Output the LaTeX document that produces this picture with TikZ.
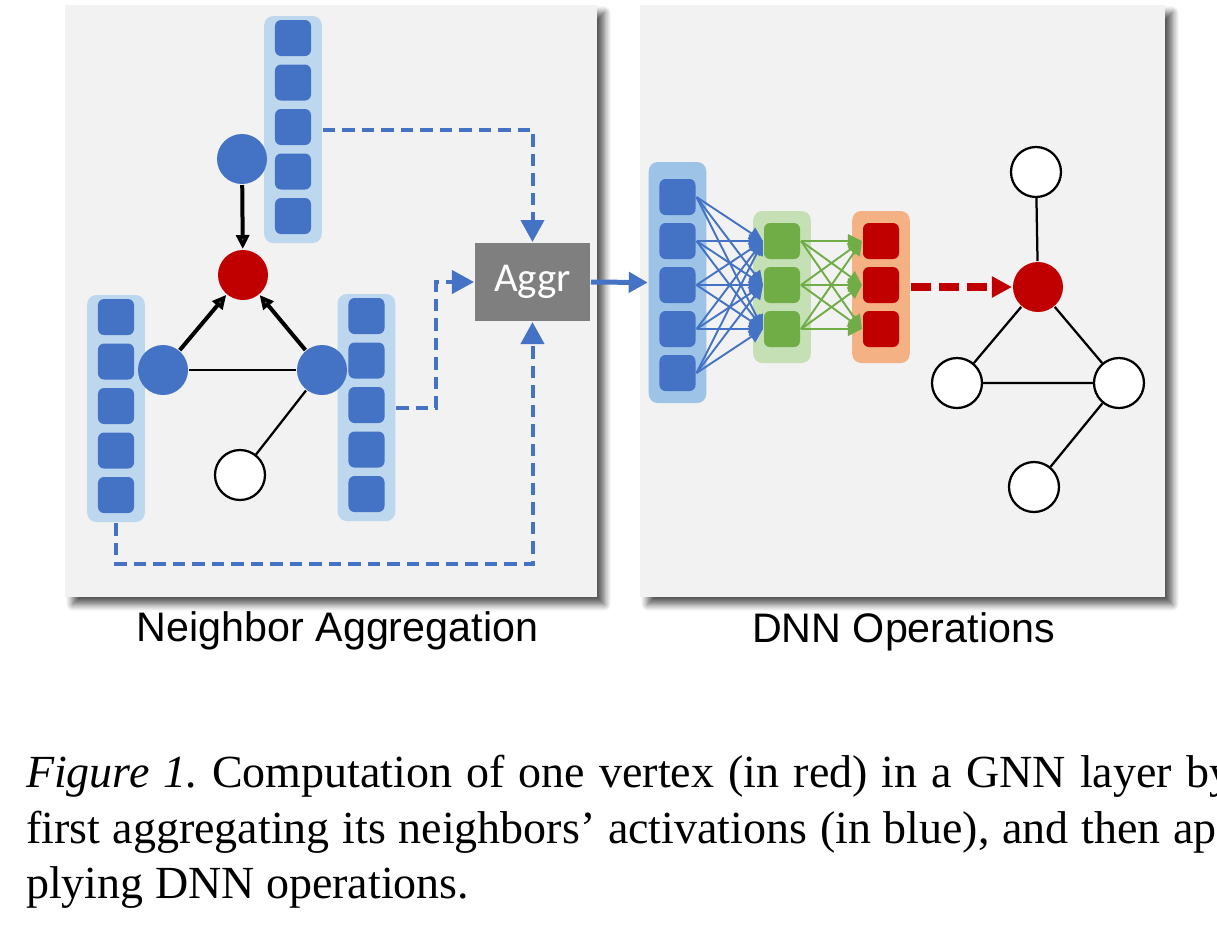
\documentclass[tikz,border=0pt]{standalone}
\usepackage{fontspec}
\setmainfont{Liberation Serif}
\setsansfont{Liberation Sans}
\newfontfamily\aggrfont{Carlito}
\usetikzlibrary{arrows.meta,positioning,shadows.blur}
\definecolor{panelgray}{HTML}{F2F2F2}
\definecolor{cellblue}{HTML}{4472C4}
\definecolor{paleblue}{HTML}{BDD7EE}
\definecolor{midblue}{HTML}{9DC3E6}
\definecolor{cellgreen}{HTML}{70AD47}
\definecolor{palegreen}{HTML}{C5E0B4}
\definecolor{cellred}{HTML}{C00000}
\definecolor{paleorange}{HTML}{F4B183}
\definecolor{aggrgray}{HTML}{7F7F7F}
\frenchspacing

\begin{document}
\begin{tikzpicture}[x=0.2pt,y=-0.2pt,
    panel/.style={fill=panelgray,blur shadow={shadow xshift=1.5pt,shadow yshift=-1.5pt,shadow blur radius=1.3pt,shadow blur steps=8,shadow opacity=65}},
    vecbg/.style={rounded corners=1.8pt,minimum width=11.5pt,inner sep=0pt},
    cell/.style={rounded corners=1.2pt,minimum size=7.2pt,inner sep=0pt,fill=#1},
    vertex/.style={circle,minimum size=10pt,inner sep=0pt,fill=#1},
    freenode/.style={circle,minimum size=10pt,inner sep=0pt,fill=white,draw=black,line width=0.45pt},
    graphline/.style={line width=0.45pt},
    msg/.style={line width=0.8pt,-{Triangle[length=2.8pt,width=2.6pt]}},
    flow/.style={cellblue,line width=0.8pt,dash pattern=on 2.5pt off 1.4pt,-{Triangle[length=4.4pt,width=4.6pt]}},
    link/.style={#1,line width=0.38pt,-{Triangle[length=2.8pt,width=2.7pt]}},
    paneltitle/.style={font=\sffamily\fontsize{8.25}{10}\selectfont,anchor=base,inner sep=0pt},
    capline/.style={font=\fontsize{9.2}{11.1}\selectfont,anchor=base west,inner sep=0pt}]
\useasboundingbox (0,0) rectangle (1217,924);
\clip (0,0) rectangle (1217,924);

\path[panel] (65,5) rectangle (597,597);
\path[panel] (640,5) rectangle (1165,597);

\node[vecbg,fill=paleblue,minimum height=45.4pt] (vtop) at (293,129.5) {};
\node[vecbg,fill=paleblue,minimum height=45.4pt] (vleft) at (116,408.5) {};
\node[vecbg,fill=paleblue,minimum height=45.4pt] (vright) at (366.5,407.5) {};
\foreach \k in {1,...,5} {
    \node[cell=cellblue] (vtop-\k) at (293,{-6.5+44.5*\k}) {};
    \node[cell=cellblue] (vleft-\k) at (116,{272.5+44.5*\k}) {};
    \node[cell=cellblue] (vright-\k) at (366.5,{271.5+44.5*\k}) {};
}

\node[vertex=cellblue] (ntop) at (242,159) {};
\node[vertex=cellred] (ntgt) at (243,275) {};
\node[vertex=cellblue] (nleft) at (163,370) {};
\node[vertex=cellblue] (nright) at (322,370) {};
\node[freenode] (nfree) at (240,475) {};
\draw[msg] (ntop) -- (ntgt);
\draw[msg] (nleft) -- (ntgt);
\draw[msg] (nright) -- (ntgt);
\draw[graphline] (nleft) -- (nright);
\draw[graphline] (nright) -- (nfree);

\node[fill=aggrgray,minimum width=23pt,minimum height=15.6pt,inner sep=0pt,text=white,font=\aggrfont\fontsize{8.2}{9}\selectfont] (aggr) at (532.5,282) {Aggr};
\draw[flow] (vtop.east) -| (aggr.north);
\draw[flow] (vright.east) -- ++(40,0) |- (aggr.west);
\draw[flow] (vleft.south) -- ++(0,41) -| (aggr.south);

\node[vecbg,fill=midblue,minimum height=48.2pt] (vin) at (677.5,282.5) {};
\node[vecbg,fill=palegreen,minimum height=30.4pt] (hid) at (782,287) {};
\node[vecbg,fill=paleorange,minimum height=30.4pt] (vout) at (881,287) {};
\foreach \k in {1,...,5}
    \node[cell=cellblue] (vin-\k) at (677.5,{153+44*\k}) {};
\foreach \k in {1,2,3} {
    \node[cell=cellgreen] (hid-\k) at (782,{197+44*\k}) {};
    \node[cell=cellred] (vout-\k) at (881,{197+44*\k}) {};
}
\draw[cellblue,line width=1pt,-{Triangle[length=3.8pt,width=4pt]}] (aggr.east) -- (vin.west);
\foreach \i in {1,...,5}
    \foreach \j in {1,2,3}
        \draw[link=cellblue] (vin-\i.east) -- (hid-\j.west);
\foreach \i in {1,2,3}
    \foreach \j in {1,2,3}
        \draw[link=cellgreen] (hid-\i.east) -- (vout-\j.west);

\node[vertex=cellred] (out) at (1038,287) {};
\node[freenode] (o1) at (1036,172) {};
\node[freenode] (o2) at (957,383) {};
\node[freenode] (o3) at (1119,383) {};
\node[freenode] (o4) at (1034,487) {};
\draw[graphline] (o1) -- (out) (out) -- (o2) (out) -- (o3) (o2) -- (o3) (o3) -- (o4);
\draw[cellred,line width=1.6pt,dash pattern=on 4pt off 1.6pt,-{Triangle[length=4pt,width=4pt]}] (vout.east) -- (out.west);

\node[paneltitle] (nagg) at (337.5,641) {Neighbor Aggregation};
\node[paneltitle] (dnnop) at (903.5,642) {DNN Operations};

\node[capline] (cap1) at (25,787) {\makebox[241.2pt][s]{\textit{Figure 1.} Computation of one vertex (in red) in a GNN layer by}};
\node[capline] (cap2) at (25,843) {\makebox[241.2pt][s]{first aggregating its neighbors' activations (in blue), and then ap-}};
\node[capline] (cap3) at (25,898) {plying DNN operations.};
\end{tikzpicture}
\end{document}
